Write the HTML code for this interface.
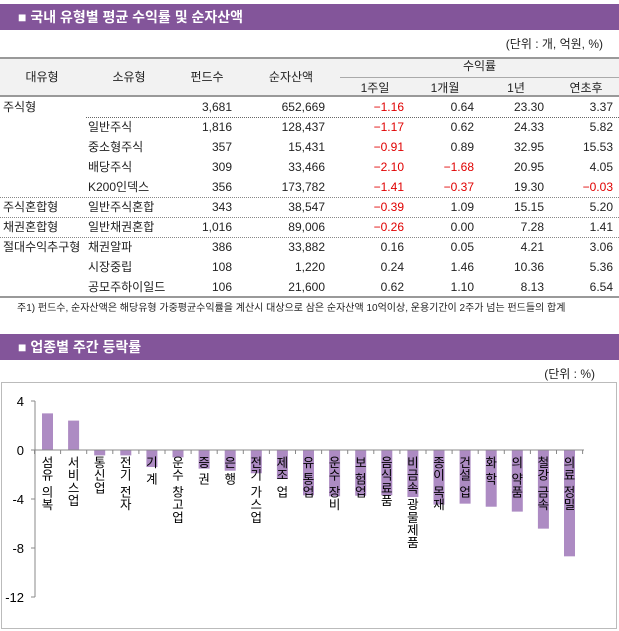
<!DOCTYPE html>
<html><head><meta charset="utf-8"><style>
*{margin:0;padding:0;box-sizing:border-box}
body{width:619px;height:631px;background:#fff;position:relative;overflow:hidden;font-family:"Liberation Sans","Noto Sans CJK KR",sans-serif;font-size:12px;color:#222}
.bar{position:absolute;left:0;width:619px;height:26px;background:#83559a;color:#fff;font-weight:bold;font-size:14px;line-height:26px;padding-left:18px}
.t{position:absolute;white-space:nowrap;font-size:12px;line-height:14px}
.r{text-align:right}
.c{text-align:center}
.red{color:#e00000}
.hl{position:absolute;height:0}
</style></head><body>
<div class="bar" style="top:4px">■ 국내 유형별 평균 수익률 및 순자산액</div>
<div class="t" style="top:37px;right:16px">(단위 : 개, 억원, %)</div>
<div style="position:absolute;left:0;top:57px;width:619px;height:40px;background:#f2f2f2;border-top:2px solid #999;border-bottom:2px solid #999"></div>
<div class="hl" style="left:340px;top:77px;width:279px;border-top:1px solid #aaa"></div>
<div class="t c" style="left:0;width:84px;top:70px">대유형</div>
<div class="t c" style="left:86px;width:86px;top:70px">소유형</div>
<div class="t c" style="left:172px;width:70px;top:70px">펀드수</div>
<div class="t c" style="left:250px;width:82px;top:70px">순자산액</div>
<div class="t c" style="left:340px;width:279px;top:59px">수익률</div>
<div class="t c" style="left:345px;width:60px;top:81px">1주일</div>
<div class="t c" style="left:415px;width:60px;top:81px">1개월</div>
<div class="t c" style="left:486px;width:60px;top:81px">1년</div>
<div class="t c" style="left:556px;width:60px;top:81px">연초후</div>
<div id="rows"></div>
<div class="hl" style="left:86px;top:117px;width:533px;border-top:1px dotted #666"></div>
<div class="hl" style="left:0;top:197px;width:619px;border-top:1px dotted #888"></div>
<div class="hl" style="left:0;top:217px;width:619px;border-top:1px dotted #888"></div>
<div class="hl" style="left:0;top:237px;width:619px;border-top:1px dotted #888"></div>
<div class="hl" style="left:0;top:296px;width:619px;border-top:2px solid #999"></div>
<div class="t" style="left:17px;top:302px;font-size:10px">주1) 펀드수, 순자산액은 해당유형 가중평균수익률을 계산시 대상으로 삼은 순자산액 10억이상, 운용기간이 2주가 넘는 펀드들의 합계</div>
<div class="bar" style="top:334px">■ 업종별 주간 등락률</div>
<div class="t" style="top:367px;right:24px">(단위 : %)</div>
<svg style="position:absolute;left:0;top:0" width="619" height="631" id="chart">
<rect x="1.5" y="382.5" width="615" height="246" fill="none" stroke="#bbb"/>
</svg>
<script>
const rowsData=[
["주식형","","3,681","652,669","-1.16","0.64","23.30","3.37"],
["","일반주식","1,816","128,437","-1.17","0.62","24.33","5.82"],
["","중소형주식","357","15,431","-0.91","0.89","32.95","15.53"],
["","배당주식","309","33,466","-2.10","-1.68","20.95","4.05"],
["","K200인덱스","356","173,782","-1.41","-0.37","19.30","-0.03"],
["주식혼합형","일반주식혼합","343","38,547","-0.39","1.09","15.15","5.20"],
["채권혼합형","일반채권혼합","1,016","89,006","-0.26","0.00","7.28","1.41"],
["절대수익추구형","채권알파","386","33,882","0.16","0.05","4.21","3.06"],
["","시장중립","108","1,220","0.24","1.46","10.36","5.36"],
["","공모주하이일드","106","21,600","0.62","1.10","8.13","6.54"]];
const rights=[232,325,404,474,544,613];
const rc=document.getElementById('rows');
rowsData.forEach((r,i)=>{
 const y=100+i*20;
 const mk=(txt,st,name)=>{const d=document.createElement('div');d.className='t';d.style.cssText=st+';top:'+y+'px';d.textContent=txt;
 
 
 rc.appendChild(d);return d;};
 if(r[0])mk(r[0],'left:3px','row-major-type');
 if(r[1])mk(r[1],'left:88px','row-minor-type');
 for(let j=2;j<8;j++){const d=mk(r[j].replace('-','−'),'right:'+(619-rights[j-2])+'px','row-value');if(j>=4&&r[j][0]==='-')d.classList.add('red');}
});
// chart
const categories=["섬유 의복","서비스업","통신업","전기 전자","기 계","운수 창고업","증 권","은 행","전기 가스업","제조 업","유 통업","운수 장비","보 험업","음식료품","비금속 광물제품","종이 목재","건설 업","화 학","의 약품","철강 금속","의료 정밀"];
const values=[2.99,2.4,-0.44,-0.44,-1.39,-0.6,-1.52,-1.69,-1.9,-2.37,-3.7,-3.78,-3.73,-3.7,-3.84,-4.46,-4.38,-4.63,-5.03,-6.42,-8.68];
const ticks=[4,0,-4,-8,-12];
const svg=document.getElementById('chart');const NS='http://www.w3.org/2000/svg';
const yS=v=>450-v*12.25;
const xS=i=>47.5+i*26.1;
function el(t,a){const e=document.createElementNS(NS,t);for(const k in a)e.setAttribute(k,a[k]);svg.appendChild(e);return e;}
const ax=el('line',{x1:35,y1:yS(4),x2:35,y2:yS(-12),stroke:'#888'});


ticks.forEach(t=>{el('line',{x1:31,y1:yS(t),x2:35,y2:yS(t),stroke:'#888'});
 const tx=el('text',{x:24,y:yS(t)+5,'text-anchor':'end','font-size':13,fill:'#000'});tx.textContent=t;
 
 });
values.forEach((v,i)=>{const b=el('rect',{x:xS(i)-5.5,y:Math.min(yS(v),yS(0)),width:11,height:Math.abs(yS(v)-yS(0)),fill:'#ad8bc3'});
 
 });
const x0=el('line',{x1:35,y1:yS(0),x2:584,y2:yS(0),stroke:'#888'});


for(let i=0;i<=21;i++)el('line',{x1:34.5+i*26.1,y1:yS(0),x2:34.5+i*26.1,y2:yS(0)+4,stroke:'#888'});
categories.forEach((c,i)=>{let y=yS(0)+17;const g=el('text',{'font-size':12.5,fill:'#000','text-anchor':'middle'});
 
 
 for(const ch of c){if(ch===' '){y+=4;continue;}const ts=document.createElementNS(NS,'tspan');ts.setAttribute('x',xS(i));ts.setAttribute('y',y);ts.textContent=ch;g.appendChild(ts);y+=12.7;}
});
</script>
</body></html>
